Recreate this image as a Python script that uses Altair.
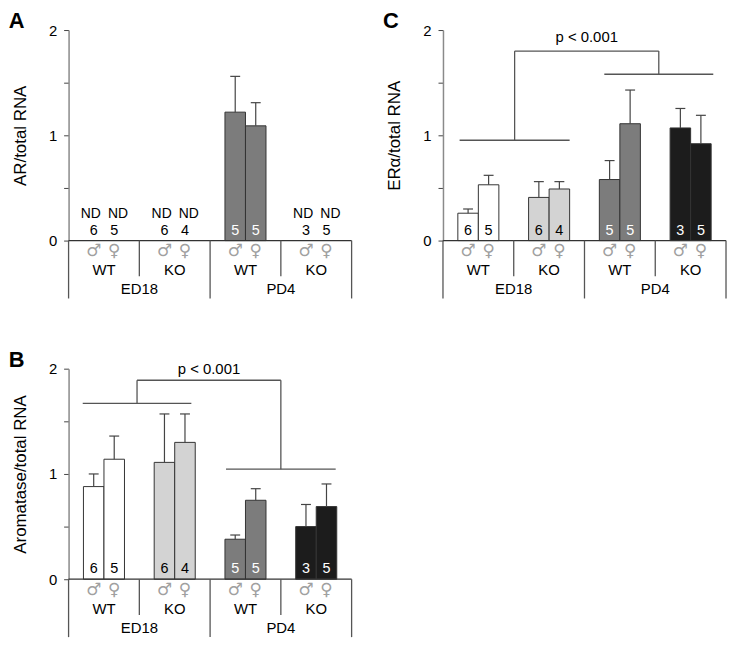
import altair as alt
import pandas as pd

# ---------------- data ----------------
AGES = ["ED18", "PD4"]
GENOTYPES = ["WT", "KO", "WT", "KO"]
N_MALE = [6, 6, 5, 3]
N_FEMALE = [5, 4, 5, 5]

# A: AR / total RNA (None = not detected)
AR_MALE = [None, None, 1.22, None]
AR_MALE_SE = [None, None, 0.34, None]
AR_FEMALE = [None, None, 1.09, None]
AR_FEMALE_SE = [None, None, 0.22, None]

# B: Aromatase / total RNA
ARO_MALE = [0.88, 1.11, 0.38, 0.50]
ARO_MALE_SE = [0.12, 0.46, 0.04, 0.21]
ARO_FEMALE = [1.14, 1.30, 0.75, 0.69]
ARO_FEMALE_SE = [0.22, 0.27, 0.11, 0.215]

# C: ERα / total RNA
ERA_MALE = [0.26, 0.41, 0.58, 1.07]
ERA_MALE_SE = [0.04, 0.15, 0.18, 0.185]
ERA_FEMALE = [0.53, 0.49, 1.11, 0.92]
ERA_FEMALE_SE = [0.09, 0.07, 0.32, 0.27]

# brackets: [x1, x2, y] of the two lower lines, top-line y, p-label y
B_BR_LEFT = [0.40, 3.47, 1.67]
B_BR_RIGHT = [4.45, 7.55, 1.045]
B_BR_TOP = 1.89
B_P_Y = 2.0
C_BR_LEFT = [0.47, 3.58, 0.953]
C_BR_RIGHT = [4.56, 7.64, 1.58]
C_BR_TOP = 1.80
C_P_Y = 1.93
P_LABEL = "p < 0.001"

FILLS = ["#ffffff", "#d3d3d3", "#7c7c7c", "#1c1c1c"]
NCOLORS = ["#000000", "#000000", "#ffffff", "#ffffff"]
FONT = "Liberation Sans"
BARW = 0.58

xs = alt.Scale(domain=[0, 8], nice=False)
ys = alt.Scale(domain=[0, 2], nice=False)


def panel(letter, ytitle, male, male_se, female, female_se, bracket=None):
    rows = []
    for g in range(4):
        c = 2 * g + 1
        for sym, vals, ses, ns, x1, x2, ndx in [
            ("♂", male, male_se, N_MALE, c - BARW, c, c - 0.37),
            ("♀", female, female_se, N_FEMALE, c, c + BARW, c + 0.40),
        ]:
            v = vals[g]
            rows.append(dict(
                x1=x1, x2=x2, xc=(x1 + x2) / 2, ndx=ndx, v=v,
                top=(v + ses[g]) if v is not None else None,
                n=str(ns[g]), sym=sym, fill=FILLS[g],
                ncol=NCOLORS[g] if v is not None else "#000000",
                nd=v is None,
            ))
    df = pd.DataFrame(rows)
    bars = df[~df.nd].copy()
    bars["zero"] = 0.0
    bars["cl"] = bars.xc - 0.14
    bars["cr"] = bars.xc + 0.14
    df["ny"] = 0.095
    df["ndy"] = 0.255
    df["sy"] = -0.1
    nd = df[df.nd]

    yaxis = alt.Axis(values=[0, 0.5, 1, 1.5, 2], format="~g",
                     labelExpr="datum.value % 1 == 0 ? datum.label : ''",
                     title=ytitle, grid=False, tickSize=5, labelPadding=7,
                     titlePadding=19, domainColor="#8a8a8a", domainWidth=1.5,
                     tickColor="#444", labelFontSize=15, titleFontSize=17,
                     titleFontWeight="normal", labelColor="#000",
                     titleColor="#000", labelFont=FONT, titleFont=FONT)

    def Y(f):
        return alt.Y(f, scale=ys)

    def X(f):
        return alt.X(f, scale=xs, axis=None)

    layers = []
    layers.append(alt.Chart(bars).mark_bar(stroke="#333", strokeWidth=1).encode(
        x=X("x1:Q"), x2="x2:Q",
        y=alt.Y("v:Q", scale=ys, axis=yaxis), y2="zero:Q",
        fill=alt.Fill("fill:N", scale=None)))
    layers.append(alt.Chart(bars).mark_rule(color="#444", strokeWidth=1.2).encode(
        x=X("xc:Q"), y=Y("v:Q"), y2="top:Q"))
    layers.append(alt.Chart(bars).mark_rule(color="#444", strokeWidth=1.2).encode(
        x=X("cl:Q"), x2="cr:Q", y=Y("top:Q")))
    layers.append(alt.Chart(df).mark_text(fontSize=14.5, font=FONT, baseline="middle").encode(
        x=X("xc:Q"), y=Y("ny:Q"), text="n:N",
        color=alt.Color("ncol:N", scale=None)))
    if len(nd):
        layers.append(alt.Chart(nd).mark_text(fontSize=14, font=FONT, baseline="middle").encode(
            x=X("ndx:Q"), y=Y("ndy:Q"), text=alt.value("ND")))
    layers.append(alt.Chart(df).mark_text(fontSize=17, font="DejaVu Sans", baseline="middle",
                                          color="#a0a0a0").encode(
        x=X("xc:Q"), y=Y("sy:Q"), text="sym:N"))

    # hierarchical x axis
    gdf = pd.DataFrame(dict(x=[2 * g + 1 for g in range(4)], t=GENOTYPES, y=-0.28))
    adf = pd.DataFrame(dict(x=[2, 6], t=AGES, y=-0.46))
    layers.append(alt.Chart(gdf).mark_text(fontSize=15, font=FONT, baseline="middle").encode(
        x=X("x:Q"), y=Y("y:Q"), text="t:N"))
    layers.append(alt.Chart(adf).mark_text(fontSize=15, font=FONT, baseline="middle").encode(
        x=X("x:Q"), y=Y("y:Q"), text="t:N"))
    hl = pd.DataFrame(dict(x1=[0], x2=[8], y=[0.0]))
    layers.append(alt.Chart(hl).mark_rule(color="#333", strokeWidth=1.3).encode(
        x=X("x1:Q"), x2="x2:Q", y=Y("y:Q")))
    vl = pd.DataFrame(dict(x=[0, 2, 4, 6, 8], y=[0.0] * 5, y2=[-0.55, -0.34, -0.55, -0.34, -0.55]))
    layers.append(alt.Chart(vl).mark_rule(color="#555", strokeWidth=1.3).encode(
        x=X("x:Q"), y=Y("y:Q"), y2="y2:Q"))

    if bracket is not None:
        left, right, top, py = bracket
        lm = (left[0] + left[1]) / 2
        rm = (right[0] + right[1]) / 2
        seg = pd.DataFrame(dict(
            x1=[left[0], right[0], lm, lm, rm],
            x2=[left[1], right[1], rm, lm, rm],
            y1=[left[2], right[2], top, left[2], right[2]],
            y2=[left[2], right[2], top, top, top]))
        layers.append(alt.Chart(seg).mark_rule(color="#555", strokeWidth=1.3).encode(
            x=X("x1:Q"), x2="x2:Q", y=Y("y1:Q"), y2="y2:Q"))
        pdf = pd.DataFrame(dict(x=[(lm + rm) / 2], y=[py], t=[P_LABEL]))
        layers.append(alt.Chart(pdf).mark_text(fontSize=15, font=FONT, baseline="middle").encode(
            x=X("x:Q"), y=Y("y:Q"), text="t:N"))

    return alt.layer(*layers).properties(
        width=285, height=212,
        title=alt.TitleParams(letter, anchor="start", frame="bounds", fontSize=22,
                              fontWeight="bold", font=FONT, dx=-3, offset=-10, color="#000"))


A = panel("A", "AR/total RNA", AR_MALE, AR_MALE_SE, AR_FEMALE, AR_FEMALE_SE)
B = panel("B", "Aromatase/total RNA", ARO_MALE, ARO_MALE_SE, ARO_FEMALE, ARO_FEMALE_SE,
          (B_BR_LEFT, B_BR_RIGHT, B_BR_TOP, B_P_Y))
C = panel("C", "ERα/total RNA", ERA_MALE, ERA_MALE_SE, ERA_FEMALE, ERA_FEMALE_SE,
          (C_BR_LEFT, C_BR_RIGHT, C_BR_TOP, C_P_Y))

chart = alt.vconcat(alt.hconcat(A, C, spacing=30), B, spacing=50).properties(
    padding=0).configure(font=FONT).configure_view(stroke=None)

chart.save("out.html", embed_options={"renderer": "svg", "actions": False})
